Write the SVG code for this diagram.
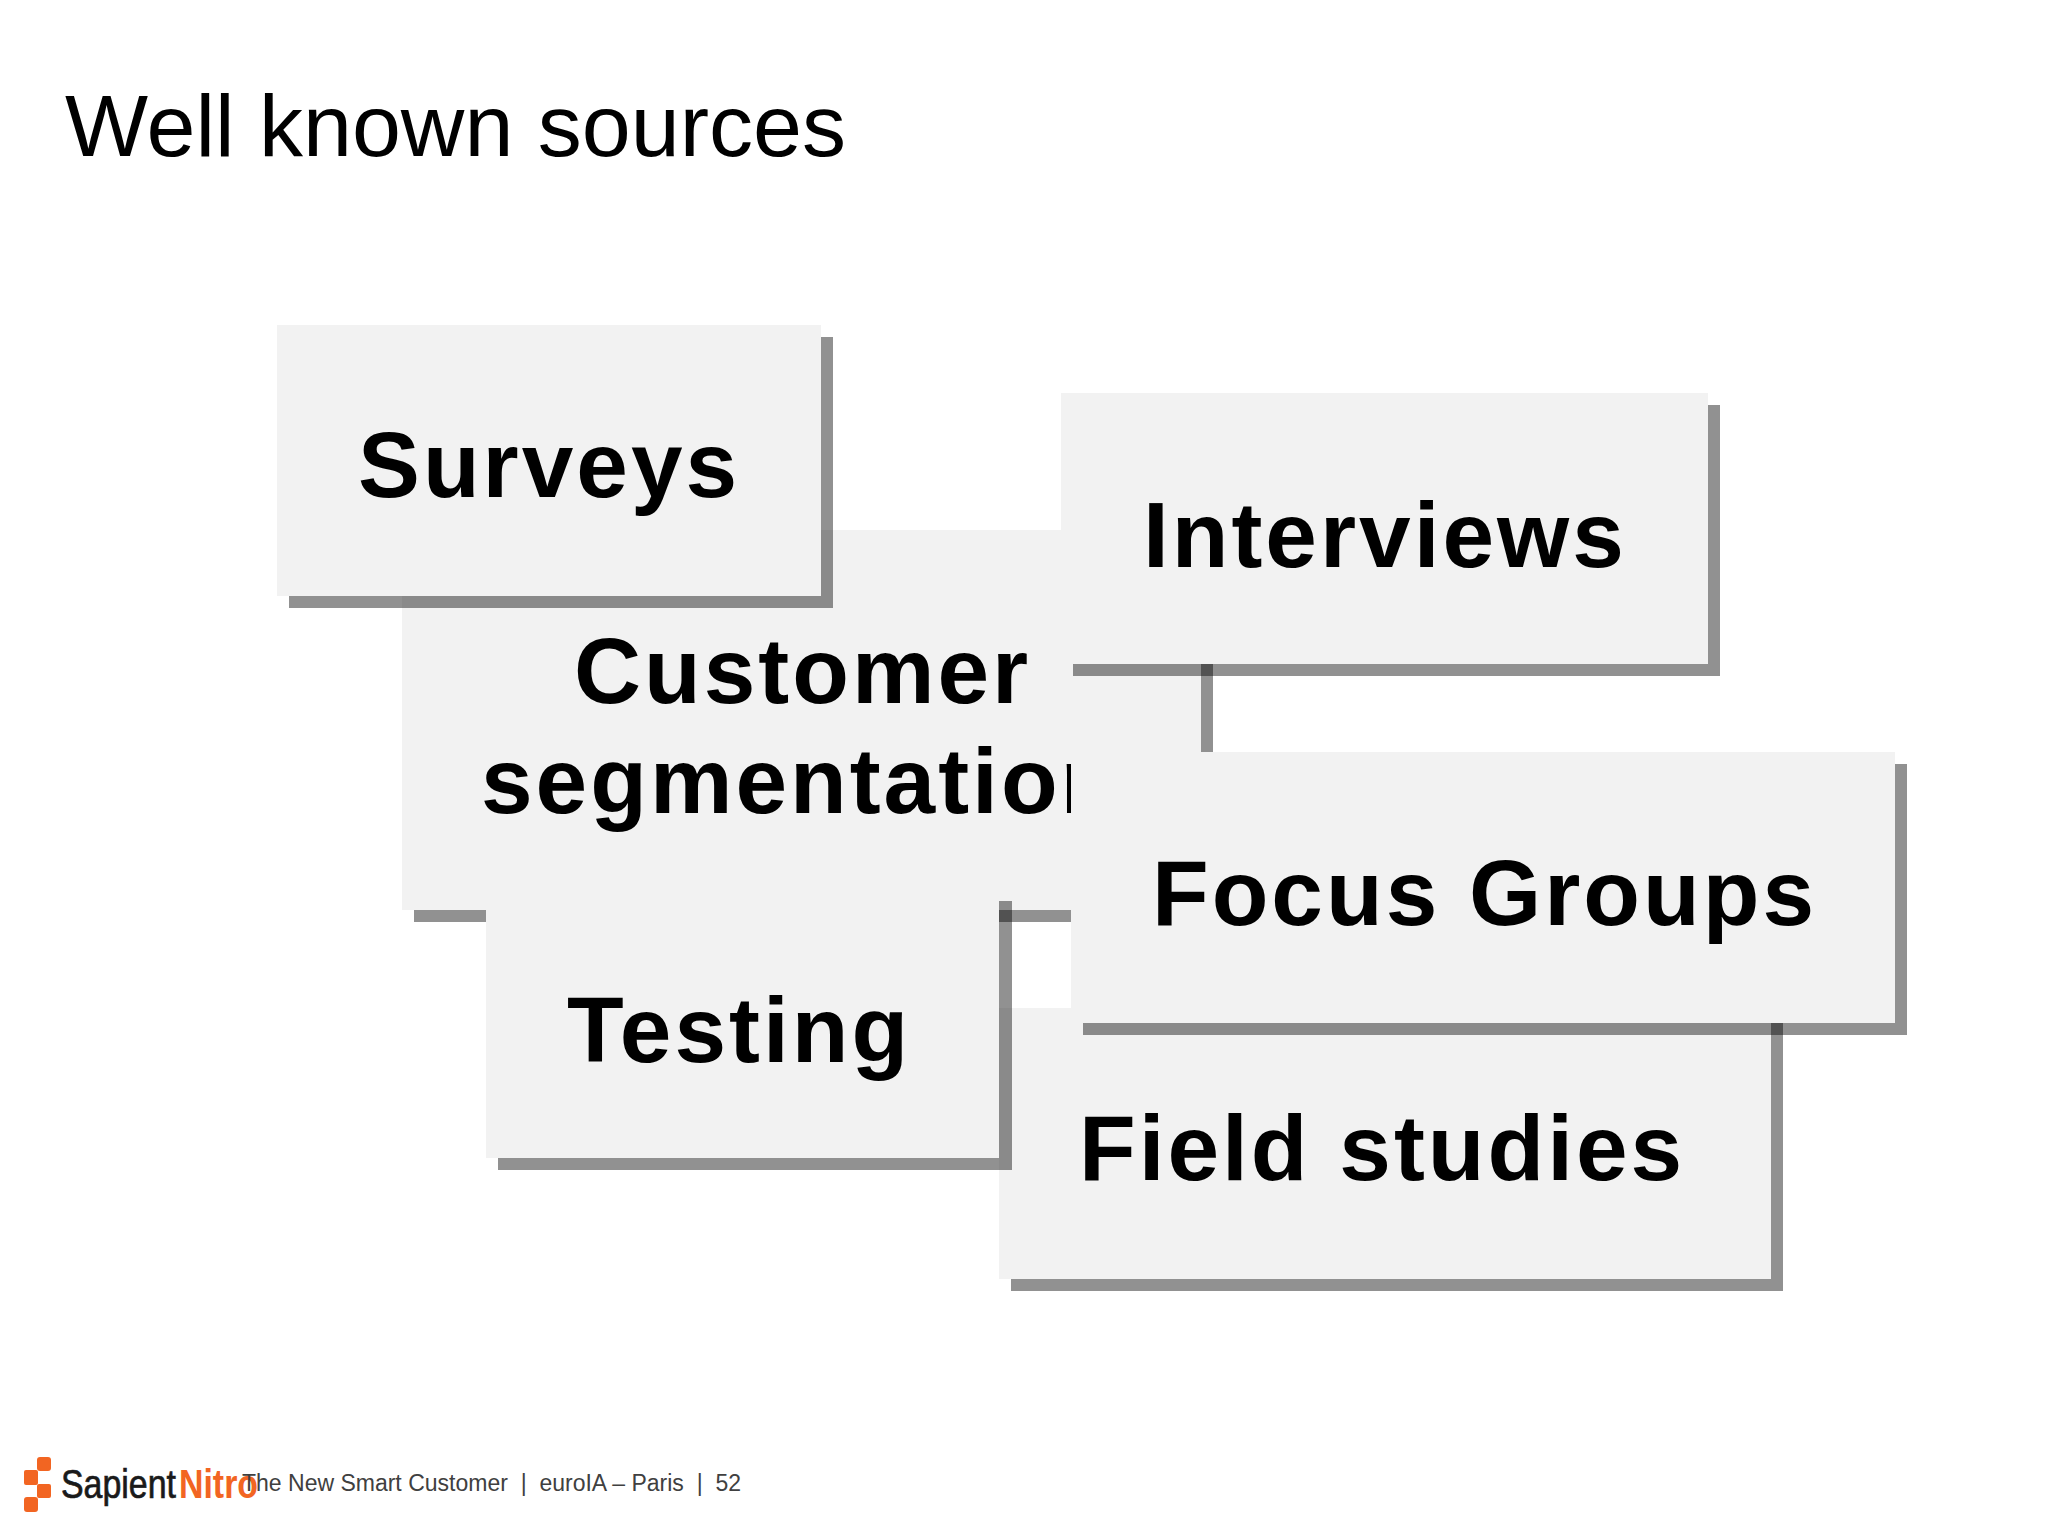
<svg xmlns="http://www.w3.org/2000/svg" width="2048" height="1536" viewBox="0 0 2048 1536">
<style>
.box{fill:#f2f2f2}
.sh{fill:#000;fill-opacity:.43}
.lb{font-family:"Liberation Sans",Arial,sans-serif;font-weight:700;font-size:92.8px;letter-spacing:3px;fill:#000}
.ttl{font-family:"Liberation Sans",Arial,sans-serif;font-size:88px;fill:#000}
.ft{font-family:"Liberation Sans",Arial,sans-serif;font-size:23px;fill:#404040}
.or{fill:#f26522}
.lg{font-family:"Liberation Sans",Arial,sans-serif;font-size:40px}
</style>
<rect width="2048" height="1536" fill="#fff"/>
<text class="ttl" x="65" y="156">Well known sources</text>
<g id="customer"><rect class="sh" x="414" y="542" width="799" height="380"/><rect class="box" x="402" y="530" width="799" height="380"/><text class="lb" x="574" y="703">Customer</text><text class="lb" x="481" y="813">segmentation</text></g>
<g id="surveys"><rect class="sh" x="289" y="337" width="544" height="271"/><rect class="box" x="277" y="325" width="544" height="271"/><text class="lb" x="358" y="497">Surveys</text></g>
<g id="interviews"><rect class="sh" x="1073" y="405" width="647" height="271"/><rect class="box" x="1061" y="393" width="647" height="271"/><text class="lb" x="1143" y="567">Interviews</text></g>
<g id="field"><rect class="sh" x="1011" y="1020" width="772" height="271"/><rect class="box" x="999" y="1008" width="772" height="271"/><text class="lb" x="1079" y="1180">Field studies</text></g>
<g id="focus"><rect class="sh" x="1083" y="764" width="824" height="271"/><rect class="box" x="1071" y="752" width="824" height="271"/><text class="lb" x="1152" y="925">Focus Groups</text></g>
<g id="testing"><rect class="sh" x="498" y="901" width="514" height="269"/><rect class="box" x="486" y="889" width="513" height="269"/><text class="lb" x="567" y="1062">Testing</text></g>
<g id="logo">
<rect class="or" x="37" y="1457" width="14" height="14" rx="3"/><rect class="or" x="24" y="1470" width="14" height="15" rx="2"/><rect class="or" x="37" y="1484" width="14" height="14" rx="2"/><rect class="or" x="24" y="1497" width="14" height="15" rx="3"/>
<text class="lg" x="61" y="1498" textLength="115" lengthAdjust="spacingAndGlyphs" fill="#1a1a1a" stroke="#1a1a1a" stroke-width=".7">Sapient</text>
<text class="lg" x="179" y="1498" font-weight="700" textLength="79" lengthAdjust="spacingAndGlyphs" fill="#f26522">Nitro</text>
</g>
<g id="footer"><text class="ft" x="242" y="1491" xml:space="preserve">The New Smart Customer  |  euroIA – Paris  |  52</text></g>
</svg>
